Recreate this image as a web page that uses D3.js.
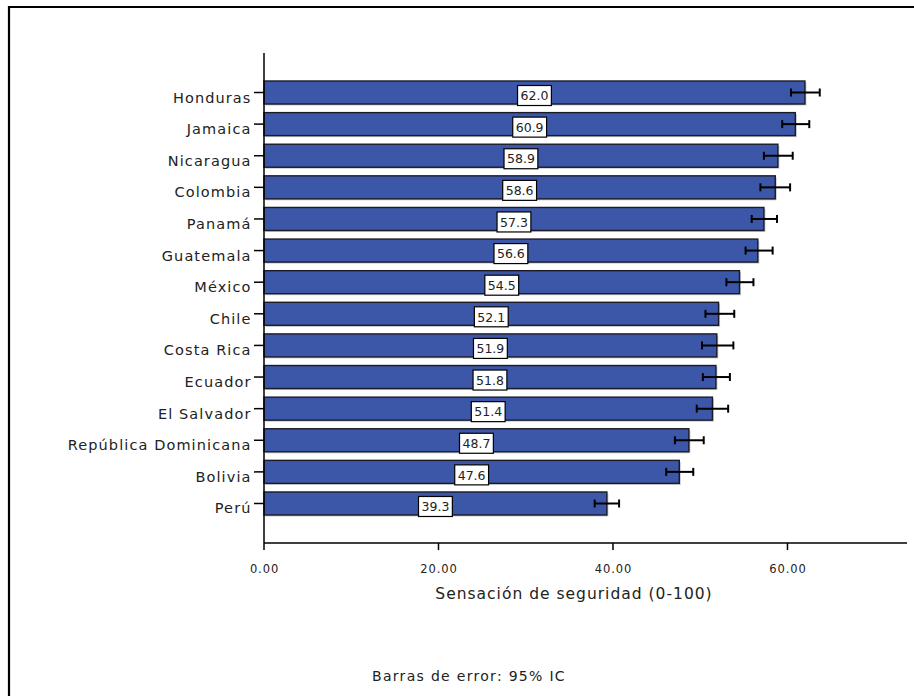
<!DOCTYPE html>
<html>
<head>
<meta charset="utf-8">
<script src="https://cdn.jsdelivr.net/npm/d3@7"></script>
<style>
  html, body { margin: 0; padding: 0; background: #fff; }
  svg { display: block; }
  text { font-family: "DejaVu Sans", Verdana, sans-serif; fill: #222; }
</style>
</head>
<body>
<svg id="chart" width="914" height="696"></svg>
<script>
const countries = ["Honduras", "Jamaica", "Nicaragua", "Colombia", "Panamá", "Guatemala", "México",
  "Chile", "Costa Rica", "Ecuador", "El Salvador", "República Dominicana", "Bolivia", "Perú"];
const values = [62.0, 60.9, 58.9, 58.6, 57.3, 56.6, 54.5, 52.1, 51.9, 51.8, 51.4, 48.7, 47.6, 39.3];
const ciLow  = [60.4, 59.4, 57.3, 56.9, 55.9, 55.2, 53.0, 50.6, 50.2, 50.3, 49.6, 47.1, 46.1, 37.9];
const ciHigh = [63.7, 62.5, 60.6, 60.3, 58.8, 58.3, 56.1, 53.9, 53.8, 53.4, 53.2, 50.4, 49.2, 40.7];
const xTicks = [0, 20, 40, 60];
const xTitle = "Sensación de seguridad (0-100)";
const footnote = "Barras de error: 95% IC";

const svg = d3.select("#chart");

// frame (top and left edges)
svg.append("line").attr("x1", 9).attr("x2", 914).attr("y1", 7).attr("y2", 7)
  .attr("stroke", "#000").attr("stroke-width", 2.2);
svg.append("line").attr("x1", 9).attr("x2", 9).attr("y1", 6).attr("y2", 696)
  .attr("stroke", "#000").attr("stroke-width", 2.2);

const x = d3.scaleLinear().domain([0, 73.7]).range([264, 907]);
const y = d3.scaleBand().domain(countries).range([81, 515]).paddingInner(0.272).paddingOuter(0);

const data = countries.map((c, i) => ({ c, v: values[i], lo: ciLow[i], hi: ciHigh[i] }));

// bar shadows
svg.append("g").selectAll("rect").data(data).join("rect")
  .attr("x", x(0) + 1.5).attr("y", d => y(d.c) + 1.5)
  .attr("width", d => x(d.v) - x(0)).attr("height", y.bandwidth())
  .attr("fill", "#c8c8c8");

// bars
svg.append("g").selectAll("rect").data(data).join("rect")
  .attr("x", x(0)).attr("y", d => y(d.c))
  .attr("width", d => x(d.v) - x(0)).attr("height", y.bandwidth())
  .attr("fill", "#3d57a8").attr("stroke", "#1a1a2a").attr("stroke-width", 1.4);

// error bars
const eb = svg.append("g").attr("stroke", "#000").attr("stroke-width", 2);
data.forEach(d => {
  const cy = y(d.c) + y.bandwidth() / 2;
  eb.append("line").attr("x1", x(d.lo)).attr("x2", x(d.hi)).attr("y1", cy).attr("y2", cy);
  eb.append("line").attr("x1", x(d.lo)).attr("x2", x(d.lo)).attr("y1", cy - 4).attr("y2", cy + 4);
  eb.append("line").attr("x1", x(d.hi)).attr("x2", x(d.hi)).attr("y1", cy - 4).attr("y2", cy + 4);
});

// value labels
const lab = svg.append("g");
data.forEach(d => {
  const cx = x(d.v / 2);
  const cy = y(d.c) + y.bandwidth() / 2 + 3;
  const g = lab.append("g");
  const t = g.append("text").attr("x", cx).attr("y", cy + 4.7)
    .attr("text-anchor", "middle").attr("font-size", 12.5).text(d.v.toFixed(1));
  const w = t.node().getComputedTextLength();
  g.insert("rect", "text").attr("x", cx - w / 2 - 3).attr("y", cy - 10)
    .attr("width", w + 6).attr("height", 20)
    .attr("fill", "#fff").attr("stroke", "#000").attr("stroke-width", 1.2);
});

// y axis
const yAxis = svg.append("g");
yAxis.append("line").attr("x1", 264).attr("x2", 264).attr("y1", 53).attr("y2", 543)
  .attr("stroke", "#000").attr("stroke-width", 1.5);
countries.forEach(c => {
  const cy = y(c) + y.bandwidth() / 2;
  yAxis.append("line").attr("x1", 254).attr("x2", 264).attr("y1", cy).attr("y2", cy)
    .attr("stroke", "#000").attr("stroke-width", 1.5);
  yAxis.append("text").attr("x", 251.5).attr("y", cy + 10)
    .attr("text-anchor", "end").attr("font-size", 14.5).attr("letter-spacing", 1.1).text(c);
});

// x axis
const xAxis = svg.append("g");
xAxis.append("line").attr("x1", 264).attr("x2", 907).attr("y1", 543).attr("y2", 543)
  .attr("stroke", "#000").attr("stroke-width", 1.5);
xTicks.forEach(v => {
  xAxis.append("line").attr("x1", x(v)).attr("x2", x(v)).attr("y1", 543).attr("y2", 550)
    .attr("stroke", "#000").attr("stroke-width", 1.5);
  xAxis.append("text").attr("x", x(v) + 0.5).attr("y", 573)
    .attr("text-anchor", "middle").attr("font-size", 11.5).attr("letter-spacing", 0.9)
    .text(d3.format(".2f")(v));
});

svg.append("text").attr("x", 574).attr("y", 598.5).attr("text-anchor", "middle")
  .attr("font-size", 15.5).attr("letter-spacing", 1).text(xTitle);

svg.append("text").attr("x", 469).attr("y", 680.5).attr("text-anchor", "middle")
  .attr("font-size", 14).attr("letter-spacing", 1.3).text(footnote);
</script>
</body>
</html>
